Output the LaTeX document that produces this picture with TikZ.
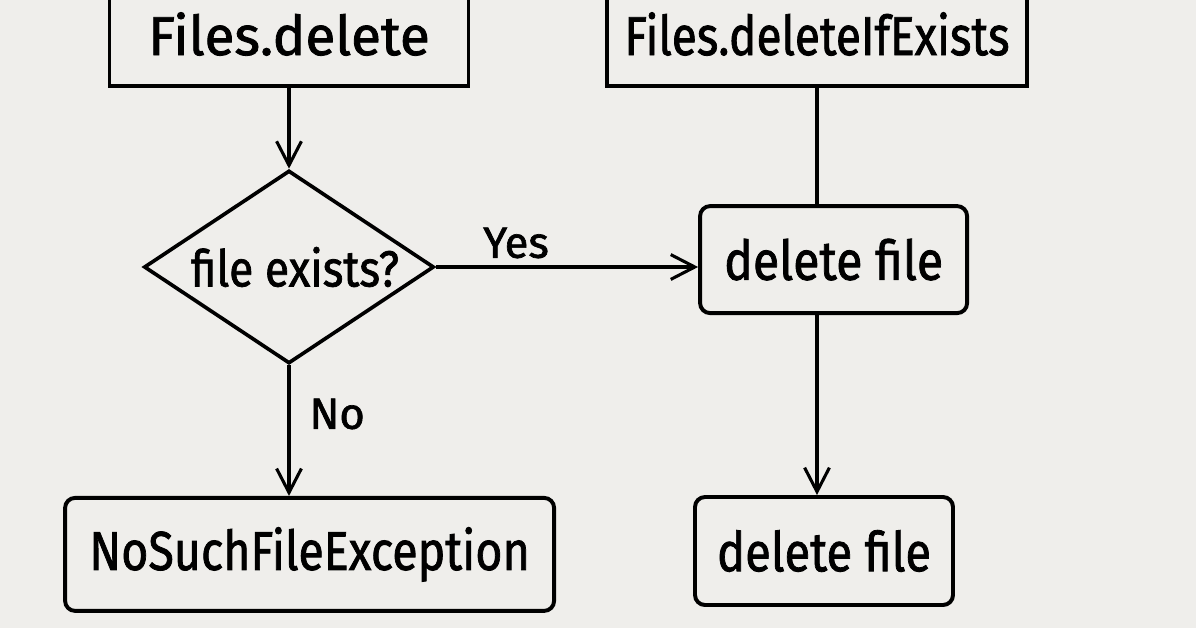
\documentclass[tikz,border=0pt]{standalone}
\usepackage{fontspec}
\usepackage{graphicx}
\setmainfont{Fira Sans}
\newfontfamily\chartfont{Fira Sans}[FakeBold=1.5]
\usetikzlibrary{shapes,shapes.geometric,calc,positioning,arrows.meta}
\definecolor{paper}{HTML}{EFEEEB}
\newcommand{\squeeze}[2]{\scalebox{#1}[1]{#2}}

\begin{document}
\begin{tikzpicture}
   [-,line width=2.2pt,>={Straight Barb[length=0.6cm,width=0.62cm,line width=2.2pt]},
   box/.style={shape=rectangle,draw,line width=2.8pt,inner sep=0pt,
      font=\chartfont\fontsize{39}{40}\selectfont},
   roundbox/.style={box,rounded corners=0.25cm},
   decide/.style={shape=diamond,draw,line width=2.6pt,inner sep=0pt,
      font=\chartfont\fontsize{36}{40}\selectfont},
   answer/.style={inner sep=0pt,font=\chartfont\fontsize{31}{34}\selectfont}]
   \fill[paper] (0,0) rectangle (29.9,-15.7);
   \clip (0,0) rectangle (29.9,-15.7);
   % top row: the two calls
   \node[box,minimum width=8.975cm,minimum height=2.6cm] (del) at (7.225,-0.85) {Files.delete};
   \node[box,minimum width=10.5cm,minimum height=2.6cm] (ifex) at (20.425,-0.85) {\squeeze{0.84}{Files.deleteIfExists}};
   \node[decide,minimum width=7.25cm,minimum height=4.825cm] (exists) at (7.225,-6.675) {\makebox[0pt]{\hspace{0.3cm}\squeeze{0.875}{file exists?}}};
   \node[roundbox,minimum width=6.675cm,minimum height=2.675cm] (file1) at (20.84,-6.49) {\squeeze{0.88}{delete file}};
   \node[roundbox,minimum width=6.45cm,minimum height=2.7cm] (file2) at (20.6,-13.775) {\squeeze{0.86}{delete file}};
   \node[roundbox,minimum width=12.225cm,minimum height=2.825cm] (nosuch) at (7.74,-13.86) {\squeeze{0.85}{NoSuchFileException}};
   \node[answer] (yes) at (12.9,-6.075) {Yes};
   \node[answer] (no) at (8.43,-10.35) {No};
   \draw (ifex.south) -- (ifex.south |- file1.north);
   \path
   \foreach \startNode/\endNode in {del.south/exists.north,
      exists.east/exists.east -| file1.west,
      exists.south/exists.south |- nosuch.north,
      file1.south -| ifex.south/file2.north -| ifex.south}
   {
      (\startNode) edge[->] (\endNode)
   };
\end{tikzpicture}
\end{document}
